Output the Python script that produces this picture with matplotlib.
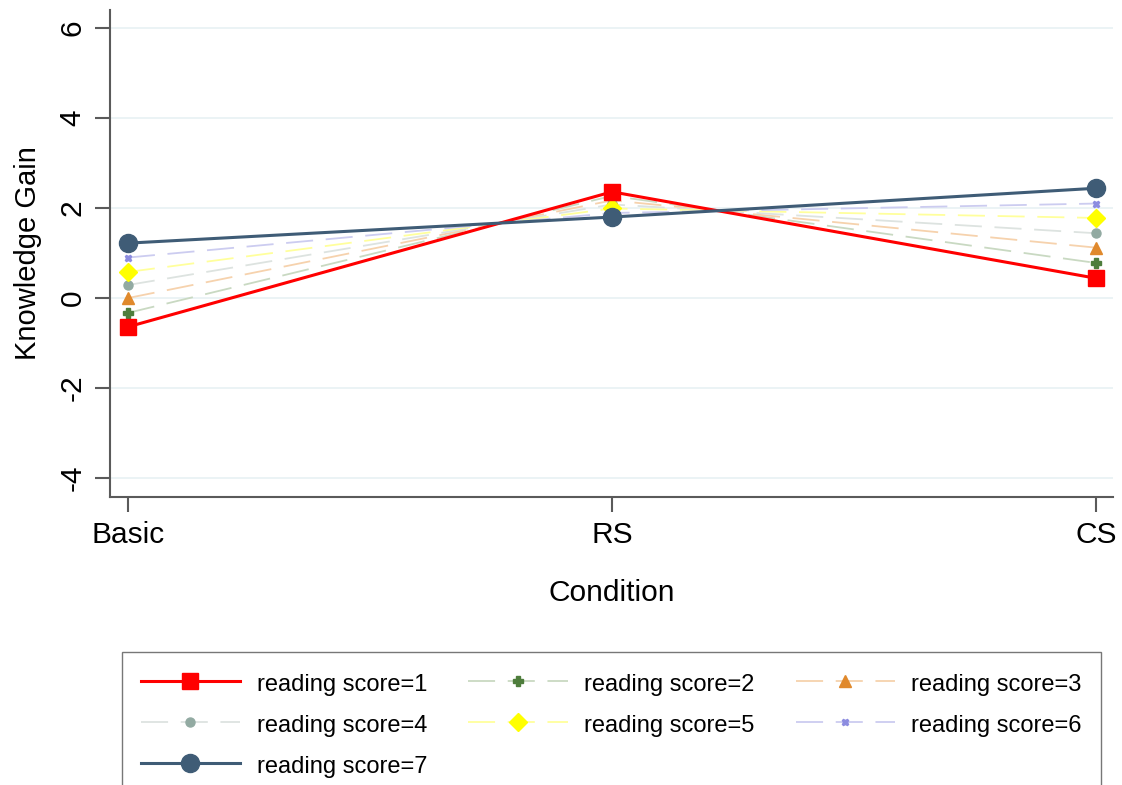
import matplotlib
matplotlib.use("Agg")
import matplotlib.pyplot as plt

plt.rcParams["font.family"] = ["Liberation Sans", "DejaVu Sans"]

conditions = ["Basic", "RS", "CS"]
scores = [1, 2, 3, 4, 5, 6, 7]
gain = {
    1: [-0.64, 2.36, 0.44],
    2: [-0.33, 2.27, 0.78],
    3: [0.00, 2.17, 1.12],
    4: [0.29, 2.08, 1.44],
    5: [0.58, 1.99, 1.78],
    6: [0.90, 1.89, 2.10],
    7: [1.22, 1.80, 2.44],
}
y_ticks = [-4, -2, 0, 2, 4, 6]

# style per reading score: line colour, marker colour, marker, size, linestyle, width
dash = (0, (15, 7))
styles = {
    1: ("#ff0000", "#ff0000", "s", 12, "-", 2.2),
    2: ("#c9d9c2", "#4e7d3c", "P", 7, dash, 1.3),
    3: ("#f6d2ad", "#e0892c", "^", 9, dash, 1.3),
    4: ("#dde3e0", "#92aaa2", "o", 6.5, dash, 1.3),
    5: ("#ffff9c", "#ffff00", "D", 9, dash, 1.3),
    6: ("#ccccf0", "#8c8ce0", "X", 5, dash, 1.3),
    7: ("#3f5c76", "#3f5c76", "o", 13, "-", 2.2),
}

fig = plt.figure(figsize=(11.22, 7.85), dpi=100)
ax = fig.add_axes([110 / 1122, 1 - 497 / 785, (1113 - 110) / 1122, (497 - 10) / 785])

x = list(range(len(conditions)))
handles = {}
for s in scores:
    lc, mc, mk, ms, ls, lw = styles[s]
    (h,) = ax.plot(x, gain[s], color=lc, linestyle=ls, linewidth=lw, marker=mk,
                   markersize=ms, markerfacecolor=mc, markeredgecolor=mc,
                   label=f"reading score={s}", zorder=3 if s in (1, 7) else 2)
    handles[s] = h

ax.set_xlim(-0.037, 2.035)
ax.set_ylim(-4.42, 6.4)
ax.set_xticks(x)
ax.set_xticklabels(conditions, fontsize=21.5)
ax.set_yticks(y_ticks)
ax.set_yticklabels([str(v) for v in y_ticks], fontsize=21.5, rotation=90, va="center")
ax.grid(axis="y", color="#e8f1f3", linewidth=1.2)
ax.set_axisbelow(True)
for side in ("top", "right"):
    ax.spines[side].set_visible(False)
for side in ("left", "bottom"):
    ax.spines[side].set_color("#5a5a5a")
    ax.spines[side].set_linewidth(1.5)
ax.tick_params(length=11, width=1.5, color="#5a5a5a", pad=6)
ax.set_xlabel("Condition", fontsize=21.5, labelpad=22)
ax.set_ylabel("Knowledge Gain", fontsize=21, labelpad=12)

# legend is filled row by row in the reference
order = [1, 4, 7, 2, 5, 3, 6]
fig.legend([handles[s] for s in order], [f"reading score={s}" for s in order],
           loc="upper left", bbox_to_anchor=(122 / 1122, 1 - 652 / 785),
           borderaxespad=0, ncol=3, fontsize=17, numpoints=1, handlelength=4.2,
           handleheight=1.2, handletextpad=0.7, columnspacing=1.75,
           labelspacing=0.68, borderpad=0.8, frameon=True, fancybox=False,
           edgecolor="#777777", framealpha=1)

fig.savefig("out.png", dpi=100)
